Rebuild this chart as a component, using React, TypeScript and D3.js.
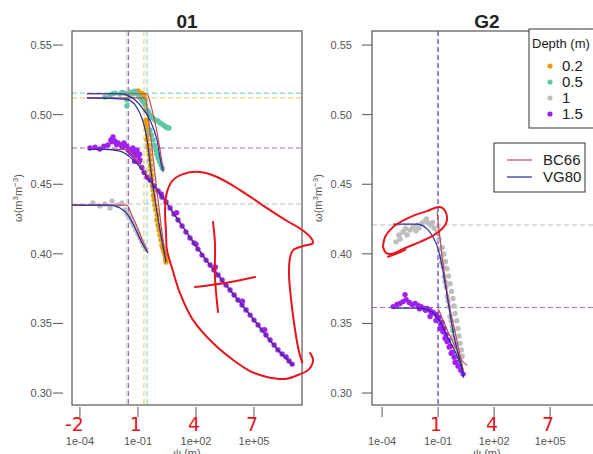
import React from "react";
import * as d3 from "d3";

type Pt = [number, number];

const W = 593;
const H = 454;

const depthLabels = ["0.2", "0.5", "1", "1.5"];
const depthColors = ["#E69F00", "#5CC8A6", "#BEBEBE", "#A020F0"];
const dashColors = ["#E8CC66", "#86D6C4", "#BBBBBB", "#9E6ACD"];
const fitNames = ["BC66", "VG80"];
const fitColors = ["#C24A55", "#2B2B9E"];

const xTickValues = [-4, -1, 2, 5];
const xTickLabels = ["1e-04", "1e-01", "1e+02", "1e+05"];
const yTickValues = [0.3, 0.35, 0.4, 0.45, 0.5, 0.55];

// ---- site 01 ----
const s01ThetaS = [0.512, 0.5155, 0.4358, 0.476];
const s01PsiA = [-0.69, -0.53, -1.57, -1.49];

const s01Pts02: Pt[] = [
  [-1.0, 0.517], [-0.84, 0.5155], [-0.69, 0.514], [-0.64, 0.5105], [-0.59, 0.503],
  [-0.59, 0.496], [-0.53, 0.489], [-0.53, 0.482], [-0.43, 0.4746], [-0.38, 0.4674],
  [-0.33, 0.46], [-0.28, 0.453], [-0.22, 0.4458], [-0.17, 0.4386], [-0.07, 0.4315],
  [-0.02, 0.4243], [0.09, 0.4171], [0.19, 0.41], [0.29, 0.4042], [0.4, 0.3991],
  [0.45, 0.3941], [-0.48, 0.478], [-0.25, 0.449], [0.0, 0.428], [0.24, 0.406],
  [-0.62, 0.507], [-0.56, 0.4925], [-0.5, 0.4855], [-0.4, 0.471], [-0.35, 0.4635],
  [-0.3, 0.4565], [-0.2, 0.442], [-0.12, 0.435], [0.04, 0.4205], [0.14, 0.4135],
  [0.34, 0.4015], [0.43, 0.3965],
];
const s01Pts05: Pt[] = [
  [-2.71, 0.5126], [-2.45, 0.514], [-2.19, 0.5155], [-1.93, 0.5148], [-1.72, 0.5155],
  [-1.57, 0.5105], [-1.57, 0.5062], [-1.41, 0.5162], [-1.26, 0.5148], [-1.1, 0.5155],
  [-0.95, 0.5134], [-0.79, 0.5105], [-0.64, 0.5076], [-0.53, 0.5033], [-0.38, 0.4997],
  [-0.17, 0.4968], [0.04, 0.4954], [0.24, 0.4932], [0.45, 0.4911], [0.6, 0.4904],
  [-0.38, 0.489], [-0.22, 0.4818], [-0.07, 0.4746], [0.04, 0.4688], [0.19, 0.4638],
  [-2.3, 0.515], [-1.82, 0.516], [-1.5, 0.515], [-1.18, 0.5168], [-0.87, 0.512],
  [-0.72, 0.509], [-0.45, 0.5015], [-0.27, 0.498], [-0.07, 0.4958], [0.14, 0.494],
  [0.35, 0.492], [0.53, 0.4906], [-0.3, 0.4855], [-0.15, 0.478], [-0.02, 0.4715],
  [0.12, 0.4662], [0.26, 0.4615],
];
const s01Pts1: Pt[] = [
  [-3.33, 0.4365], [-2.97, 0.4343], [-2.71, 0.4358], [-2.45, 0.4329], [-2.34, 0.4379],
  [-2.03, 0.435], [-1.83, 0.4365], [-1.67, 0.4315], [-1.41, 0.4257], [-1.21, 0.42],
  [-1.0, 0.4142], [-0.79, 0.4085], [-0.59, 0.4034], [-1.55, 0.4285], [-1.31, 0.4228],
  [-1.1, 0.417], [-0.9, 0.4115], [-0.69, 0.406],
];
const s01Pts15: Pt[] = [
  [-3.48, 0.476], [-3.22, 0.4767], [-2.97, 0.4753], [-2.76, 0.4774], [-2.55, 0.4782],
  [-2.4, 0.4818], [-2.29, 0.4839], [-2.19, 0.481], [-2.03, 0.4796], [-1.88, 0.4782],
  [-1.72, 0.4796], [-1.57, 0.4774], [-1.41, 0.4746], [-1.26, 0.476], [-1.1, 0.4731],
  [-1.0, 0.4703], [-0.9, 0.4674], [-1.21, 0.4703], [-0.53, 0.455],
  [-2.34, 0.4805], [-2.1, 0.4785], [-1.8, 0.4765], [-1.5, 0.4745], [-1.35, 0.4722],
  [-1.15, 0.4705], [-0.95, 0.466], [-0.8, 0.462], [-0.68, 0.4585],
  [-1.05, 0.4745], [-0.92, 0.4715], [-1.18, 0.4665], [-1.3, 0.4735],
  [-0.38, 0.453], [0.04, 0.4451], [0.45, 0.4372], [0.86, 0.4286], [1.28, 0.42],
  [1.69, 0.4114], [2.1, 0.4034], [2.52, 0.3955], [2.93, 0.3884], [3.35, 0.3812],
  [3.76, 0.374], [4.17, 0.3668], [4.59, 0.3596], [5.0, 0.3524], [5.42, 0.3453],
  [5.83, 0.3381], [6.24, 0.3309], [6.66, 0.3259], [6.97, 0.3208],
  [-0.17, 0.4487], [0.24, 0.4408], [0.66, 0.4329], [1.07, 0.4243], [1.48, 0.4157],
  [1.9, 0.4078], [2.31, 0.3991], [2.73, 0.392], [3.14, 0.3848], [3.55, 0.3776],
  [3.97, 0.3704], [4.38, 0.3632], [4.8, 0.356], [5.21, 0.3489], [5.62, 0.3417],
  [6.04, 0.3345], [6.45, 0.328], [6.81, 0.323],
  [4.4, 0.366], [5.55, 0.3455], [2.0, 0.407], [1.0, 0.4295], [0.2, 0.443], [3.0, 0.3905],
];

const s01Vg02: Pt[] = [[-3.64, 0.512], [-1.57, 0.511], [-0.9, 0.501], [-0.53, 0.482], [-0.28, 0.4545], [0.14, 0.417], [0.45, 0.394]];
const s01Vg05: Pt[] = [[-3.64, 0.515], [-2.0, 0.515], [-1.57, 0.514], [-0.9, 0.507], [-0.38, 0.496], [-0.02, 0.482], [0.24, 0.462], [0.31, 0.459]];
const s01Vg1: Pt[] = [[-4.41, 0.435], [-2.45, 0.435], [-1.93, 0.433], [-1.52, 0.428], [-1.15, 0.4185], [-0.79, 0.4078], [-0.48, 0.4006]];
const s01Vg15: Pt[] = [[-3.59, 0.475], [-2.7, 0.475], [-1.93, 0.4738], [-1.41, 0.4695], [-0.9, 0.4625], [-0.53, 0.455], [0.04, 0.4451], [1.28, 0.42], [2.52, 0.3955], [3.76, 0.374], [5.0, 0.3524], [6.24, 0.3309], [7.02, 0.32]];

const s01Bc02: Pt[] = [[-3.64, 0.512], [-0.64, 0.512], [-0.4, 0.49], [-0.1, 0.455], [0.2, 0.42], [0.45, 0.394]];
const s01Bc05: Pt[] = [[-3.64, 0.515], [-0.53, 0.515], [-0.3, 0.505], [-0.05, 0.49], [0.15, 0.474], [0.31, 0.46]];
const s01Bc1: Pt[] = [[-4.41, 0.435], [-1.57, 0.435], [-1.3, 0.427], [-1.0, 0.418], [-0.75, 0.409], [-0.48, 0.4006]];
const s01Bc15: Pt[] = [[-3.59, 0.475], [-1.6, 0.475], [-1.0, 0.466], [-0.5, 0.456], [0.04, 0.4455], [1.28, 0.4205], [2.52, 0.396], [3.76, 0.3742], [5.0, 0.3525], [6.24, 0.331], [7.0, 0.3205]];

// ---- site G2 ----
const g2ThetaS = [NaN, NaN, 0.4207, 0.3614];
const g2PsiA = [NaN, NaN, -1.0, -1.0];

const g2Pts05: Pt[] = [[-0.2, 0.345], [-0.05, 0.335], [0.1, 0.326], [0.2, 0.32]];
const g2Pts1: Pt[] = [
  [-3.25, 0.4086], [-3.04, 0.4107], [-2.88, 0.4157], [-2.66, 0.4136], [-2.5, 0.4171],
  [-2.34, 0.4193], [-2.18, 0.4164], [-2.02, 0.4186], [-1.86, 0.4221], [-1.7, 0.4236],
  [-1.54, 0.4221], [-1.38, 0.4207], [-1.21, 0.4186], [-1.05, 0.4157], [-0.95, 0.4107],
  [-0.89, 0.4036], [-0.84, 0.3979], [-0.73, 0.3907], [-0.68, 0.3836], [-0.57, 0.3764],
  [-0.52, 0.3693], [-0.41, 0.3621], [-0.36, 0.355], [-0.25, 0.3479], [-0.2, 0.3407],
  [-0.09, 0.3336], [-0.04, 0.3279], [0.07, 0.3221], [0.18, 0.3164],
  [-0.68, 0.4], [-0.52, 0.3893], [-0.36, 0.3786], [-0.2, 0.3679], [-0.09, 0.3571],
  [0.07, 0.3464], [0.18, 0.3357], [0.29, 0.3264],
  [-0.78, 0.4045], [-0.6, 0.3945], [-0.44, 0.384], [-0.28, 0.373], [-0.14, 0.3625],
  [0.0, 0.352], [0.12, 0.341], [0.24, 0.331], [-0.8, 0.394], [-0.62, 0.38],
  [-0.46, 0.366], [-0.3, 0.352], [-0.15, 0.339], [0.0, 0.328],
  [-3.1, 0.4135], [-2.75, 0.418], [-2.1, 0.4205], [-1.62, 0.425], [-1.3, 0.4225],
];
const g2Pts15: Pt[] = [
  [-3.41, 0.3621], [-3.2, 0.3636], [-3.04, 0.3643], [-2.88, 0.3657], [-2.71, 0.3671],
  [-2.55, 0.365], [-2.39, 0.3636], [-2.23, 0.3643], [-2.07, 0.3629], [-1.91, 0.3621],
  [-1.75, 0.3607], [-1.59, 0.3607], [-1.43, 0.3593], [-1.27, 0.3579], [-1.11, 0.3564],
  [-0.95, 0.3543], [-0.79, 0.3507], [-0.68, 0.3464], [-0.57, 0.3421], [-0.46, 0.3379],
  [-0.36, 0.3336], [-0.25, 0.3293], [-0.14, 0.3257], [-0.04, 0.3221], [0.07, 0.3193],
  [0.23, 0.3164], [0.34, 0.3136],
  [-2.77, 0.3707], [-1.43, 0.355], [-1.11, 0.3521], [-0.89, 0.3464], [-0.63, 0.3393],
  [-2.0, 0.3605], [-1.67, 0.3595], [-1.35, 0.3575], [-1.03, 0.3535], [-0.85, 0.349],
  [-0.74, 0.344], [-0.52, 0.337], [-0.41, 0.333], [-0.3, 0.3285], [-0.09, 0.322],
];

const g2Vg1: Pt[] = [[-3.41, 0.4214], [-2.13, 0.4214], [-1.59, 0.4179], [-1.27, 0.4121], [-1.0, 0.4036], [-0.79, 0.3914], [-0.52, 0.37], [-0.2, 0.3443], [0.18, 0.3229], [0.34, 0.3143]];
const g2Vg15: Pt[] = [[-3.41, 0.361], [-2.0, 0.361], [-1.3, 0.358], [-1.0, 0.3536], [-0.46, 0.3393], [0.07, 0.325], [0.34, 0.3143], [0.36, 0.311]];
const g2Bc1: Pt[] = [[-1.05, 0.43], [-0.79, 0.3986], [-0.46, 0.3679], [0.02, 0.3371], [0.34, 0.3164]];
const g2Bc15: Pt[] = [[-1.0, 0.3607], [-0.5, 0.345], [0.0, 0.331], [0.3, 0.323], [0.55, 0.32]];

// ---- red hand annotations (data units) ----
const s01Loop: Pt[] = [
  [7.49, 0.322], [7.33, 0.3295], [7.12, 0.3453], [6.92, 0.3668], [6.81, 0.3848], [6.86, 0.397],
  [7.02, 0.4027], [7.54, 0.4056], [8.05, 0.4078], [7.95, 0.4113], [7.49, 0.4171], [6.71, 0.4236],
  [5.67, 0.4329], [4.28, 0.4458], [3.09, 0.4552], [2.21, 0.4588], [1.33, 0.4573], [0.81, 0.453],
  [0.5, 0.4444], [0.4, 0.4315], [0.45, 0.4157], [0.5, 0.4027], [0.76, 0.3898], [1.17, 0.3718],
  [1.85, 0.3524], [2.88, 0.3359], [3.92, 0.3237], [4.79, 0.3158], [5.67, 0.3115], [6.61, 0.3101],
  [7.38, 0.3136], [7.85, 0.3172], [8.05, 0.3237], [7.9, 0.3287],
];
const s01CrossV: Pt[] = [[2.88, 0.4228], [2.98, 0.4078], [2.98, 0.3833], [3.14, 0.3582]];
const s01CrossH: Pt[] = [[1.95, 0.3761], [3.5, 0.379], [5.05, 0.3833]];
const g2Ellipse: Pt[] = [
  [-3.95, 0.405], [-3.84, 0.4121], [-3.41, 0.4193], [-2.5, 0.4264], [-1.59, 0.4307], [-0.89, 0.4336],
  [-0.57, 0.4293], [-0.57, 0.4221], [-1.05, 0.415], [-1.96, 0.4086], [-2.88, 0.4036], [-3.46, 0.4],
  [-3.79, 0.4007], [-3.95, 0.405],
];
const g2Tail: Pt[] = [[-3.68, 0.3979], [-3.25, 0.4], [-2.77, 0.4029]];
const s01Digits = ["-2", "1", "4", "7"];
const g2Digits = ["", "1", "4", "7"];

const panels = [
  {
    name: "01", x0: 72, x1: 302, xDomain: [-4.41, 7.48], tickGap: 9,
    thetaS: s01ThetaS, psiA: s01PsiA,
    points: [s01Pts02, s01Pts05, s01Pts1, s01Pts15],
    bc: [s01Bc02, s01Bc05, s01Bc1, s01Bc15],
    vg: [s01Vg02, s01Vg05, s01Vg1, s01Vg15],
    marks: [s01Loop, s01CrossV, s01CrossH],
    digits: s01Digits,
  },
  {
    name: "G2", x0: 372, x1: 602, xDomain: [-4.54, 7.78], tickGap: 0,
    thetaS: g2ThetaS, psiA: g2PsiA,
    points: [[], g2Pts05, g2Pts1, g2Pts15],
    bc: [[], [], g2Bc1, g2Bc15],
    vg: [[], [], g2Vg1, g2Vg15],
    marks: [g2Ellipse, g2Tail],
    digits: g2Digits,
  },
];

const Y0 = 31;
const Y1 = 405;
const font = "'Liberation Sans', Arial, sans-serif";

const Panel = ({ p }: { p: (typeof panels)[number] }) => {
  const x = d3.scaleLinear().domain(p.xDomain).range([p.x0, p.x1]);
  const y = d3.scaleLinear().domain([0.2914, 0.5601]).range([Y1, Y0]);
  const fit = d3.line<Pt>().x((d) => x(d[0])).y((d) => y(d[1])).curve(d3.curveMonotoneX);
  const hand = d3.line<Pt>().x((d) => x(d[0])).y((d) => y(d[1])).curve(d3.curveCatmullRom.alpha(0.5));
  const cx = (p.x0 + p.x1) / 2;
  const cy = (Y0 + Y1) / 2;

  return (
    <g>
      <defs>
        <clipPath id={`clip-${p.name}`}>
          <rect x={p.x0} y={Y0} width={p.x1 - p.x0} height={Y1 - Y0} />
        </clipPath>
      </defs>
      <g clipPath={`url(#clip-${p.name})`}>
        {p.thetaS.map((v, i) =>
          isNaN(v) ? null : (
            <line key={"h" + i} x1={p.x0} x2={p.x1} y1={y(v)} y2={y(v)}
              stroke={dashColors[i]} strokeWidth={1.1} strokeDasharray="5,3" />
          )
        )}
        {p.psiA.map((v, i) =>
          isNaN(v) ? null : (
            <line key={"v" + i} x1={x(v)} x2={x(v)} y1={Y0} y2={Y1}
              stroke={p.name === "G2" ? "#6E6ED2" : dashColors[i]} strokeWidth={1.1} strokeDasharray="5,3" />
          )
        )}
        {p.points.map((pts, i) =>
          pts.map((d, j) => (
            <circle key={`p${i}-${j}`} cx={x(d[0])} cy={y(d[1])} r={2.7} fill={depthColors[i]} />
          ))
        )}
        {p.bc.map((pts, i) =>
          pts.length ? <path key={"bc" + i} d={fit(pts) ?? ""} fill="none" stroke={fitColors[0]} strokeWidth={1.2} /> : null
        )}
        {p.vg.map((pts, i) =>
          pts.length ? <path key={"vg" + i} d={fit(pts) ?? ""} fill="none" stroke={fitColors[1]} strokeWidth={1.2} /> : null
        )}
      </g>
      <rect x={p.x0} y={Y0} width={p.x1 - p.x0} height={Y1 - Y0} fill="none" stroke="#555" strokeWidth={1.2} />
      <text x={cx} y={28} textAnchor="middle" fontFamily={font} fontWeight="bold" fontSize={19} fill="#222">{p.name}</text>
      {yTickValues.map((v) => (
        <g key={"yt" + v}>
          <line x1={p.x0 - 10 - p.tickGap} x2={p.x0 - p.tickGap} y1={y(v)} y2={y(v)} stroke="#555" />
          <text x={p.x0 - 20} y={y(v) + 4} textAnchor="end" fontFamily={font} fontSize={11} fill="#555">{v.toFixed(2)}</text>
        </g>
      ))}
      {xTickValues.map((v, i) => (
        <g key={"xt" + v}>
          <line x1={x(v)} x2={x(v)} y1={Y1 + 2} y2={Y1 + 12} stroke="#555" />
          <text x={x(v)} y={445} textAnchor="middle" fontFamily={font} fontSize={11} fill="#555">{xTickLabels[i]}</text>
        </g>
      ))}
      <text x={cx} y={457} textAnchor="middle" fontFamily={font} fontSize={11} fill="#555">ψ (m)</text>
      <text transform={`translate(${p.x0 - 50},${cy - 20}) rotate(-90)`} textAnchor="middle" fontFamily={font} fontSize={11} fill="#555">
        ω(m<tspan dy={-4} fontSize={8}>3</tspan><tspan dy={4}>m</tspan><tspan dy={-4} fontSize={8}>−3</tspan><tspan dy={4}>)</tspan>
      </text>
      {p.marks.map((m, i) => (
        <path key={"m" + i} d={hand(m) ?? ""} fill="none" stroke="#E8141C" strokeWidth={2} strokeLinecap="round" strokeLinejoin="round" />
      ))}
      {p.digits.map((t, i) =>
        t ? (
          <text key={"d" + i} x={x(xTickValues[i]) + 4} y={431} textAnchor="end" fontFamily="'DejaVu Sans', sans-serif" fontSize={19} fill="#E8141C">{t}</text>
        ) : null
      )}
    </g>
  );
};

const Legends = () => (
  <g fontFamily={font}>
    <rect x={529} y={29} width={80} height={99} fill="white" stroke="#333" strokeWidth={1} />
    <text x={532} y={48} fontSize={13} fill="#222">Depth (m)</text>
    {depthLabels.map((lab, i) => (
      <g key={lab}>
        <circle cx={550} cy={66 + i * 16} r={2.6} fill={depthColors[i]} />
        <text x={562} y={71 + i * 16} fontSize={15} fill="#222">{lab}</text>
      </g>
    ))}
    <rect x={494} y={143} width={91} height={49} fill="white" stroke="#333" strokeWidth={1} />
    {fitNames.map((n, i) => (
      <g key={n}>
        <line x1={507} x2={532} y1={160 + i * 17} y2={160 + i * 17} stroke={fitColors[i]} strokeWidth={1.2} />
        <text x={543} y={165 + i * 17} fontSize={15} fill="#222">{n}</text>
      </g>
    ))}
  </g>
);

const App = () => (
  <div style={{ position: "absolute", left: 0, top: 0 }}>
    <svg width={W} height={H} style={{ display: "block", background: "white" }}>
      {panels.map((p) => (
        <Panel key={p.name} p={p} />
      ))}
      <Legends />
    </svg>
  </div>
);

export default App;
